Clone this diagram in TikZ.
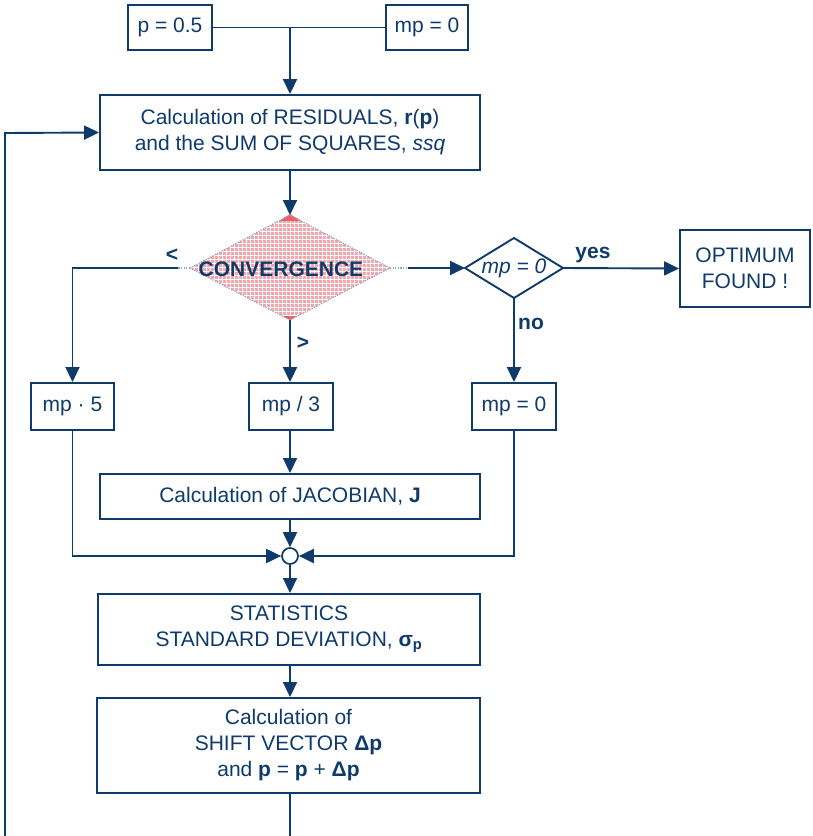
\documentclass[tikz,border=0pt]{standalone}
\usepackage{fontspec}
\setmainfont{Liberation Sans}
\usetikzlibrary{arrows.meta}
\definecolor{navy}{HTML}{0F3B6C}
\definecolor{rose}{RGB}{245,165,171}
\definecolor{tipred}{RGB}{236,95,100}
\definecolor{edgegrey}{RGB}{150,166,192}
\begin{document}
\begin{tikzpicture}[x=1pt,y=-1pt,
  font=\fontsize{21}{26}\selectfont, text=navy,
  box/.style={draw=navy, line width=1.9pt, align=center, inner sep=0pt, fill=white},
  flow/.style={draw=navy, line width=1.9pt, -{Triangle[length=15pt,width=14pt]}},
  link/.style={draw=navy, line width=1.9pt},
  lbl/.style={font=\fontsize{21}{26}\selectfont\bfseries, inner sep=0pt},
  faint/.style={draw=edgegrey, line width=1.2pt, dash pattern=on 1.2pt off 1.4pt}]
\useasboundingbox (0,0) rectangle (812,836);
\clip (0,0) rectangle (812,836);

% start values
\node[box, minimum width=84pt, minimum height=45pt] (pinit) at (170,27.5) {p = 0.5};
\node[box, minimum width=82pt, minimum height=45pt] (mpinit) at (427,27.5) {mp = 0};
\coordinate (tjoin) at (290,27.5);

% residuals
\node[box, minimum width=380pt, minimum height=75pt] (res) at (290,132.5)
  {Calculation of RESIDUALS, \textbf{r}(\textbf{p})\\and the SUM OF SQUARES, \textit{ssq}};

% convergence decision: hatched rose diamond
\coordinate (cN) at (290,215);
\coordinate (cS) at (290,320);
\coordinate (cW) at (190,268);
\coordinate (cE) at (390,268);
\begin{scope}
  \clip (cN) -- (cE) -- (cS) -- (cW) -- cycle;
  \fill[rose] (185,210) rectangle (395,325);
  \foreach \gx in {186,190,...,394} \draw[white, line width=0.9pt] (\gx,210) -- (\gx,325);
  \foreach \gy in {211,215,...,325} \draw[white, line width=0.9pt] (185,\gy) -- (395,\gy);
\end{scope}
\fill[tipred] (290,214) -- (301,221) -- (279,221) -- cycle;
\fill[tipred] (290,320) -- (283,316) -- (297,316) -- cycle;
\draw[faint] (cN) -- (cE) -- (cS) -- (cW) -- cycle;
\node[lbl] (conv) at (281,269) {CONVERGENCE};
\coordinate (cWo) at (178,268);
\coordinate (cEo) at (408,268);
\draw[faint] (cW) -- (cWo);
\draw[faint] (cE) -- (cEo);

% mp = 0 decision
\coordinate (dN) at (514,238);
\coordinate (dS) at (514,298);
\coordinate (dW) at (465,268);
\coordinate (dE) at (563,268);
\draw[navy, line width=1.9pt, line join=miter] (dN) -- (dE) -- (dS) -- (dW) -- cycle;
\node[inner sep=0pt] (mpq) at (514,268) {\itshape mp = 0};

\node[box, minimum width=130pt, minimum height=77pt, align=center] (opt) at (745,268.5)
  {OPTIMUM\\FOUND !};

% marquardt parameter updates
\node[box, minimum width=83pt, minimum height=47pt] (mpup) at (72.5,406.5) {mp · 5};
\node[box, minimum width=84pt, minimum height=47pt] (mpdn) at (291,406.5) {mp / 3};
\node[box, minimum width=84pt, minimum height=47pt] (mpzero) at (514,406.5) {mp = 0};

\node[box, minimum width=380pt, minimum height=45pt] (jac) at (290,496.5)
  {Calculation of JACOBIAN, \textbf{J}};

\node[circle, draw=navy, line width=1.7pt, fill=white, minimum size=16pt, inner sep=0pt] (hub) at (290,556) {};

\node[box, minimum width=382pt, minimum height=71pt] (stat) at (289,629.5)
  {STATISTICS\\STANDARD DEVIATION, \textbf{σ}\textsubscript{\textbf{p}}};

\node[box, minimum width=383pt, minimum height=95pt] (shift) at (288.5,745.5)
  {Calculation of\\SHIFT VECTOR \textbf{Δp}\\and \textbf{p} = \textbf{p} + \textbf{Δp}};

% connectors
\draw[link] (pinit.east) -- (mpinit.west);
\draw[flow] (tjoin) -- (res.north -| tjoin);
\draw[flow] (res.south -| cN) -- (cN);
\draw[flow] (cWo) -| (mpup.north);
\draw[flow] (cS) -- (mpdn.north -| cS);
\draw[flow] (cEo) -- (dW);
\draw[flow] (dE) -- (opt.west);
\draw[flow] (dS) -- (mpzero.north);
\draw[flow] (mpdn.south -| jac.north) -- (jac.north);
\draw[flow] (mpup.south) |- (hub.west);
\draw[flow] (mpzero.south) |- (hub.east);
\draw[flow] (jac.south) -- (hub.north);
\draw[flow] (hub.south) -- (stat.north -| hub.south);
\draw[flow] (stat.south -| hub.south) -- (shift.north -| hub.south);
\draw[flow] (shift.south -| hub.south) -- ++(0,60) -| (5,133) -- (res.west);

% branch labels
\node[lbl] (lt) at (172,255) {<};
\node[lbl] (gt) at (303,343) {>};
\node[lbl] (yes) at (593,255) {yes};
\node[lbl] (no) at (531,324) {no};
\end{tikzpicture}
\end{document}
